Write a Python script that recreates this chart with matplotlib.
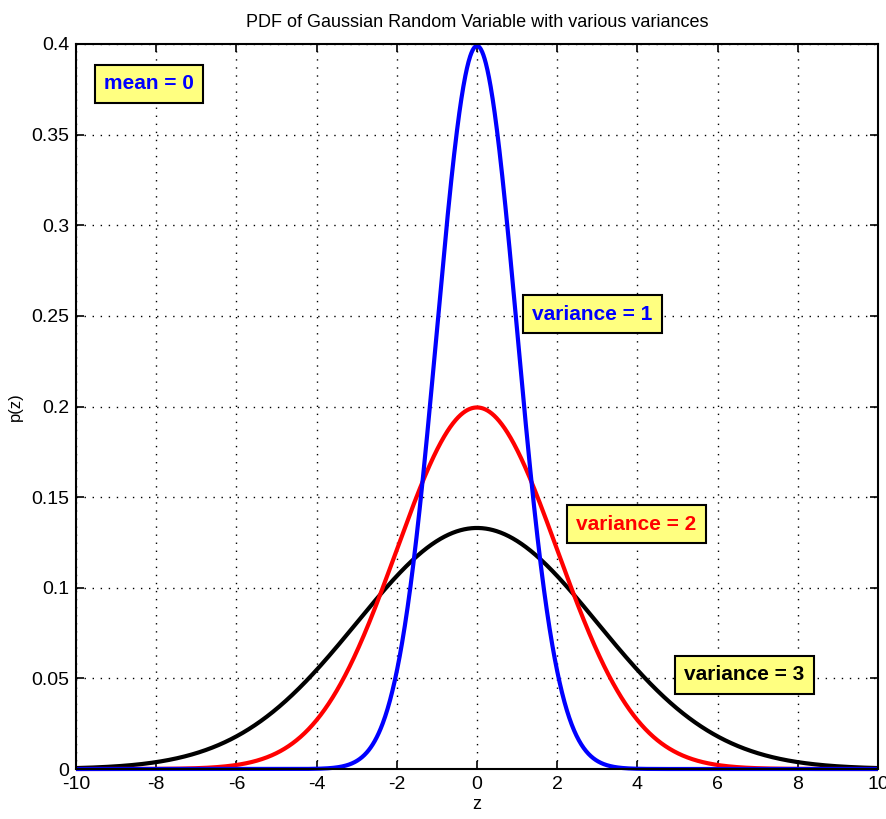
import numpy as np
import matplotlib
matplotlib.use("Agg")
import matplotlib.pyplot as plt

plt.rcParams['font.family'] = ['Liberation Sans', 'DejaVu Sans']
plt.rcParams['axes.unicode_minus'] = False

# Data: Gaussian PDFs, mean 0, with given standard deviations (labels as in the chart)
mean = 0.0
sigmas = [3, 2, 1]
colors = ['black', 'red', 'blue']
labels = ['variance = 3', 'variance = 2', 'variance = 1']
label_pos = [(6.66, 0.052), (3.97, 0.135), (2.87, 0.251)]
xticks = [-10, -8, -6, -4, -2, 0, 2, 4, 6, 8, 10]
yticks = [0, 0.05, 0.1, 0.15, 0.2, 0.25, 0.3, 0.35, 0.4]
ytick_labels = ['0', '0.05', '0.1', '0.15', '0.2', '0.25', '0.3', '0.35', '0.4']

z = np.linspace(-10, 10, 2001)

fig = plt.figure(figsize=(8.86, 8.19), dpi=100)
ax = fig.add_axes([76/886, 1-769/819, (878-76)/886, (769-44)/819])

for s, c in zip(sigmas, colors):
    p = np.exp(-(z - mean)**2 / (2*s**2)) / (s*np.sqrt(2*np.pi))
    ax.plot(z, p, color=c, lw=3.0, solid_capstyle='butt', clip_on=False)

ax.set_xlim(-10, 10)
ax.set_ylim(0, 0.4)
ax.set_xticks(xticks)
ax.set_yticks(yticks)
ax.set_yticklabels(ytick_labels)
ax.grid(True, color='black', linestyle=(0, (1, 4.8)), linewidth=1.0)
ax.tick_params(direction='in', length=6, width=1.2, labelsize=14, top=True, right=True, pad=5)
for sp in ax.spines.values():
    sp.set_linewidth(1.5)

ax.set_title('PDF of Gaussian Random Variable with various variances', fontsize=13, pad=12)
ax.set_xlabel('z', fontsize=13, labelpad=2)
ax.set_ylabel('p(z)', fontsize=12, labelpad=6)

box = dict(boxstyle='square,pad=0.45', facecolor='#ffff80', edgecolor='black', linewidth=1.5)
ax.text(-8.18, 0.378, 'mean = 0', color='blue', fontsize=15, fontweight='bold',
        ha='center', va='center', bbox=box)
for (x, y), lab, c in zip(label_pos, labels, colors):
    ax.text(x, y, lab, color=c, fontsize=15, fontweight='bold', ha='center', va='center', bbox=box)

fig.savefig('out.png', dpi=100)
